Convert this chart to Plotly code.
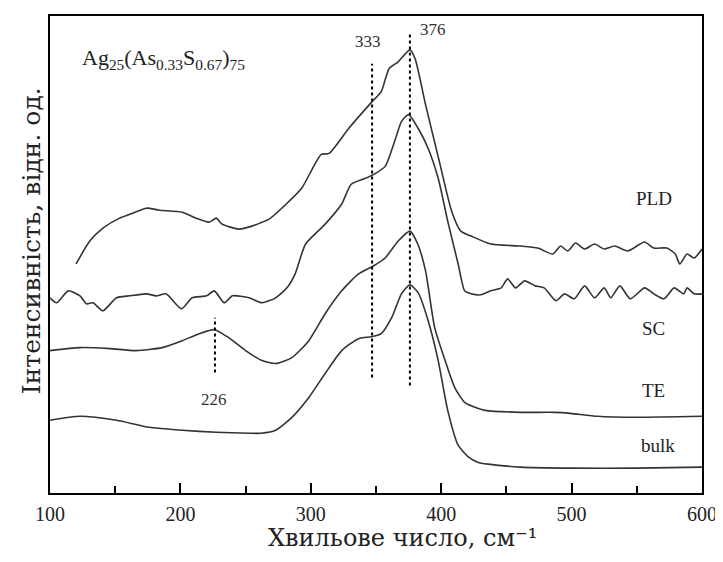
import plotly.graph_objects as go

# ---- data (wavenumber, cm^-1 ; intensity, arb. units) ----
pld_x = [120, 130.5, 140.6, 153.4, 163.4, 174, 184, 201.5, 212, 222, 227.5, 232, 245, 255, 261, 268,
         281, 293, 308, 314, 329, 347, 354, 360, 367, 376, 380, 388, 398, 408, 415, 423, 438, 461,
         474, 485.5, 491.6, 497, 503, 510, 517.6, 525, 533, 543, 556, 563, 573, 579.5, 583, 588.5, 594, 600]
pld_y = [230, 253, 266, 276, 281, 286, 284, 282, 276, 272, 276, 270, 265, 268, 271, 275,
         290, 306, 340, 341, 366, 393, 403, 426, 433, 445, 436, 390, 336, 283, 263, 258, 250, 248,
         246, 240, 248, 243, 251, 245, 250, 245, 248, 243, 252, 246, 246, 240, 230, 240, 236, 245]

sc_x = [100, 105, 114, 123, 128, 133, 140.6, 151, 161, 174, 181.6, 189, 200.8, 209, 220, 226, 233.6,
        240, 252.7, 262.6, 273, 281.7, 288, 296, 311, 323.6, 331, 342, 349.6, 357, 365, 369.5, 375,
        382.4, 390, 397.7, 405, 413, 418, 423, 430.5, 438, 446, 451, 457, 464, 472, 479, 488, 494.6,
        502, 510, 517.6, 525, 530, 537, 545, 556, 563, 571, 578.6, 586, 588.5, 594, 600]
sc_y = [196, 191, 203, 198, 190, 191, 183, 196, 198, 200, 198, 200, 185, 196, 198, 203, 191,
        198, 196, 191, 196, 206, 220, 250, 270, 290, 310, 316, 321, 328, 356, 373, 380,
        366, 346, 316, 273, 230, 203, 200, 199, 203, 206, 215, 206, 213, 208, 206, 193, 200,
        195, 208, 196, 206, 196, 208, 195, 206, 200, 195, 206, 200, 206, 200, 200]

te_x = [100, 123, 146, 166, 186, 201.5, 214.5, 226, 237, 250, 262.6, 273, 285.5, 298.5, 311, 323.7,
        336.6, 348, 357, 367, 376, 382, 388, 395, 403, 410.7, 418, 428, 433.6, 461, 487, 499, 520, 550, 600]
te_y = [143, 146, 145, 143, 146, 153, 160, 164, 156, 143, 133, 130, 136, 153, 180, 203,
        220, 228, 236, 253, 263, 250, 223, 166, 133, 105, 91, 85, 83, 81, 81, 80, 77, 76, 77]

bulk_x = [100, 123, 151, 176, 201.5, 227.5, 252.7, 262, 273, 285.5, 298.5, 311, 323.7, 336.6, 346.6,
          354, 362, 369.5, 376, 382.4, 390, 397.7, 405, 413, 421, 428, 436, 461, 499, 550, 600]
bulk_y = [73, 77, 73, 66, 63, 61, 60, 60, 63, 76, 96, 120, 143, 155, 157,
          160, 176, 200, 209, 201, 173, 133, 83, 48, 36, 31, 29, 26, 25, 25, 26]

series_names = ["PLD", "SC", "TE", "bulk"]
label_pos_x = [563, 563, 563, 566]
label_pos_y = [296, 165, 103, 48]

peak_labels = ["333", "376", "226"]
peak_line_x = [347, 376, 226.5]
peak_line_top = [431, 461, 176]
peak_line_bottom = [116, 108, 121]
peak_label_x = [344, 394, 226]
peak_label_y = [453, 465, 94]

tick_vals = [100, 200, 300, 400, 500, 600]

x_title = "Хвильове число, см⁻¹"
y_title = "Інтенсивність, відн. од."

LINE = "#333333"
SERIF = "Liberation Serif, Times New Roman, serif"
SLAB = "DejaVu Serif, serif"

fig = go.Figure()
for xs, ys, nm in [(pld_x, pld_y, "PLD"), (sc_x, sc_y, "SC"), (te_x, te_y, "TE"), (bulk_x, bulk_y, "bulk")]:
    fig.add_trace(go.Scatter(x=xs, y=ys, mode="lines", name=nm,
                             line=dict(color=LINE, width=1.6, shape="spline", smoothing=0.6),
                             showlegend=False, hoverinfo="x+y+name"))

for i in range(3):
    fig.add_shape(type="line", xref="x", yref="y",
                  x0=peak_line_x[i], x1=peak_line_x[i], y0=peak_line_bottom[i], y1=peak_line_top[i],
                  line=dict(color="black", width=2, dash="dot"))
    fig.add_annotation(x=peak_label_x[i], y=peak_label_y[i], text=peak_labels[i], showarrow=False,
                       font=dict(family=SERIF, size=17, color="#333"))

for nm, lx, ly in zip(series_names, label_pos_x, label_pos_y):
    fig.add_annotation(x=lx, y=ly, text=nm, showarrow=False,
                       font=dict(family=SERIF, size=19, color="#222"))

fig.add_annotation(x=123, y=436, xanchor="left", text="Ag<sub>25</sub>(As<sub>0.33</sub>S<sub>0.67</sub>)<sub>75</sub>",
                   showarrow=False, font=dict(family=SERIF, size=22, color="#222"))

# axis titles placed as paper-referenced annotations for exact placement
fig.add_annotation(xref="paper", yref="paper", x=0.540, y=-0.127, xanchor="center", yanchor="bottom",
                   text=x_title, showarrow=False, font=dict(family=SLAB, size=24, color="#222"))
fig.add_annotation(xref="paper", yref="paper", x=-0.029, y=0.528, xanchor="center", yanchor="middle",
                   text=y_title, textangle=-90, showarrow=False,
                   font=dict(family=SLAB, size=25, color="#222"))

# page body has an 8px default margin: size figure to fit the 723x562 window
fig.update_layout(
    width=715, height=546,
    margin=dict(l=42, r=18, t=6, b=61),
    paper_bgcolor="white", plot_bgcolor="white",
    font=dict(family=SERIF, color="#222"),
)
fig.update_xaxes(
    range=[100, 600], tickvals=tick_vals, ticks="inside", ticklen=10, tickwidth=1.5, tickcolor="black",
    minor=dict(ticks="inside", ticklen=7, tickwidth=1.5, tickcolor="black", dtick=50, tick0=150, showgrid=False),
    showline=True, linecolor="black", linewidth=1.5, mirror=True, showgrid=False, zeroline=False,
    tickfont=dict(family=SERIF, size=20, color="#222"), ticklabelstandoff=2,
)
fig.update_yaxes(
    range=[0, 479], showticklabels=False, ticks="", showline=True, linecolor="black", linewidth=1.5,
    mirror=True, showgrid=False, zeroline=False,
)

fig.write_html("out.html")
